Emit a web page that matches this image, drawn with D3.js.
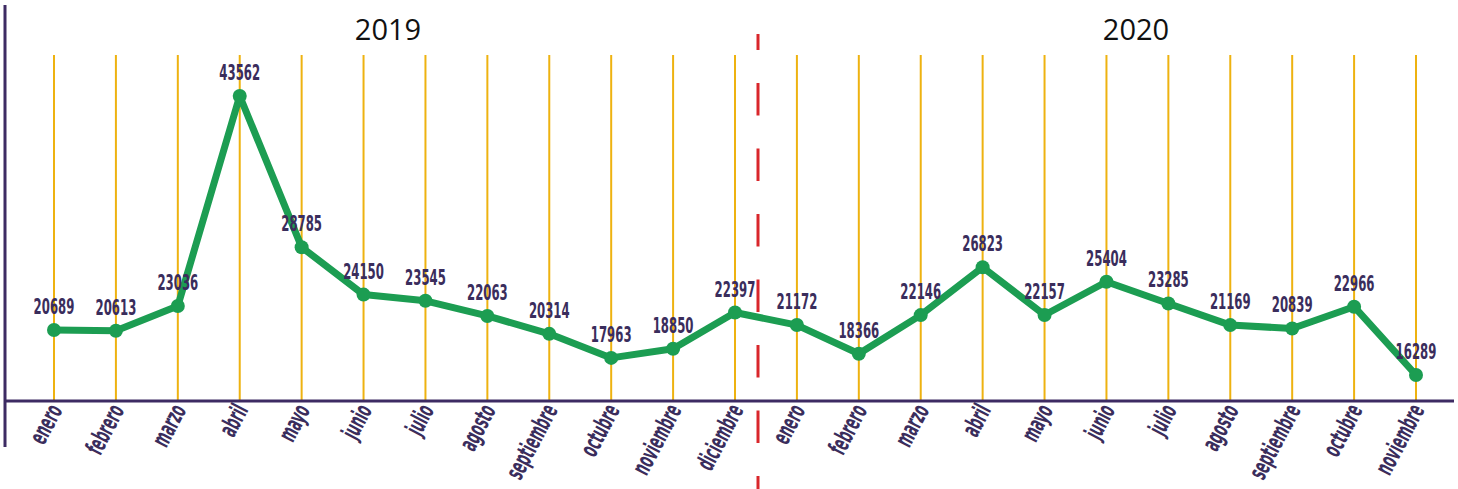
<!DOCTYPE html>
<html>
<head>
<meta charset="utf-8">
<script src="https://cdn.jsdelivr.net/npm/d3@7"></script>
<style>
  html, body { margin: 0; padding: 0; background: #fff; }
  svg { display: block; }
  .num { font-family: "DejaVu Sans Condensed", "DejaVu Sans", sans-serif; font-weight: bold; fill: #3a2d5c; }
  .month { font-family: "DejaVu Sans Condensed", "DejaVu Sans", sans-serif; font-weight: bold; fill: #3a2d5c; }
  .year { font-family: "Open Sans", sans-serif; fill: #111; }
</style>
</head>
<body>
<svg id="chart" width="1458" height="489"></svg>
<script>
// Monthly values, 2019 and 2020.
const years = ["2019", "2020"];
const months2019 = ["enero", "febrero", "marzo", "abril", "mayo", "junio", "julio", "agosto", "septiembre", "octubre", "noviembre", "diciembre"];
const months2020 = ["enero", "febrero", "marzo", "abril", "mayo", "junio", "julio", "agosto", "septiembre", "octubre", "noviembre"];
const values2019 = [20689, 20613, 23036, 43562, 28785, 24150, 23545, 22063, 20314, 17963, 18850, 22397];
const values2020 = [21172, 18366, 22146, 26823, 22157, 25404, 23285, 21169, 20839, 22966, 16289];

const data = [
  ...months2019.map((m, i) => ({ key: "2019-" + m, month: m, value: values2019[i] })),
  ...months2020.map((m, i) => ({ key: "2020-" + m, month: m, value: values2020[i] })),
];

const svg = d3.select("#chart");
const baseY = 401;
const gridTop = 55;

const x = d3.scalePoint().domain(data.map((d) => d.key)).range([54, 1416]);
const y = d3.scaleLinear().domain([13750, 47570]).range([baseY, gridTop]);

// Vertical gold gridlines, one per month.
svg.append("g")
  .selectAll("line")
  .data(data)
  .join("line")
  .attr("x1", (d) => x(d.key))
  .attr("x2", (d) => x(d.key))
  .attr("y1", gridTop)
  .attr("y2", baseY)
  .attr("stroke", "#eeb210")
  .attr("stroke-width", 2);

// Axes.
svg.append("line")
  .attr("x1", 5).attr("x2", 1454)
  .attr("y1", baseY).attr("y2", baseY)
  .attr("stroke", "#3d2b63").attr("stroke-width", 3);
svg.append("line")
  .attr("x1", 5).attr("x2", 5)
  .attr("y1", 5).attr("y2", 447)
  .attr("stroke", "#3d2b63").attr("stroke-width", 3);

// Year divider, a bit closer to diciembre than to enero.
const divX = x("2019-diciembre") + 23;
svg.append("line")
  .attr("x1", divX).attr("x2", divX)
  .attr("y1", 34).attr("y2", 489)
  .attr("stroke", "#d9262b")
  .attr("stroke-width", 3)
  .attr("stroke-dasharray", "32.5 33")
  .attr("stroke-dashoffset", 16.5);

// Year titles.
svg.append("text").attr("class", "year")
  .attr("x", 388).attr("y", 40)
  .attr("text-anchor", "middle")
  .style("font-size", "29px")
  .text(years[0]);
svg.append("text").attr("class", "year")
  .attr("x", 1136).attr("y", 40)
  .attr("text-anchor", "middle")
  .style("font-size", "29px")
  .text(years[1]);

// Line and points.
const line = d3.line().x((d) => x(d.key)).y((d) => y(d.value));
svg.append("path")
  .datum(data)
  .attr("d", line)
  .attr("fill", "none")
  .attr("stroke", "#1c9d52")
  .attr("stroke-width", 7)
  .attr("stroke-linejoin", "round");
svg.append("g")
  .selectAll("circle")
  .data(data)
  .join("circle")
  .attr("cx", (d) => x(d.key))
  .attr("cy", (d) => y(d.value))
  .attr("r", 7)
  .attr("fill", "#1c9d52");

// Value labels, squeezed to look like a condensed face.
svg.append("g")
  .selectAll("text")
  .data(data)
  .join("text")
  .attr("class", "num")
  .attr("transform", (d) => `translate(${x(d.key)},${y(d.value) - 16}) scale(0.62,1)`)
  .attr("text-anchor", "middle")
  .style("font-size", "21px")
  .text((d) => d.value);

// Month labels, rotated and squeezed.
svg.append("g")
  .selectAll("text")
  .data(data)
  .join("text")
  .attr("class", "month")
  .attr("text-anchor", "end")
  .attr("transform", (d) => `translate(${x(d.key) + 9},${410}) rotate(-62) scale(0.56,1)`)
  .style("font-size", "25px")
  .text((d) => d.month);
</script>
</body>
</html>
